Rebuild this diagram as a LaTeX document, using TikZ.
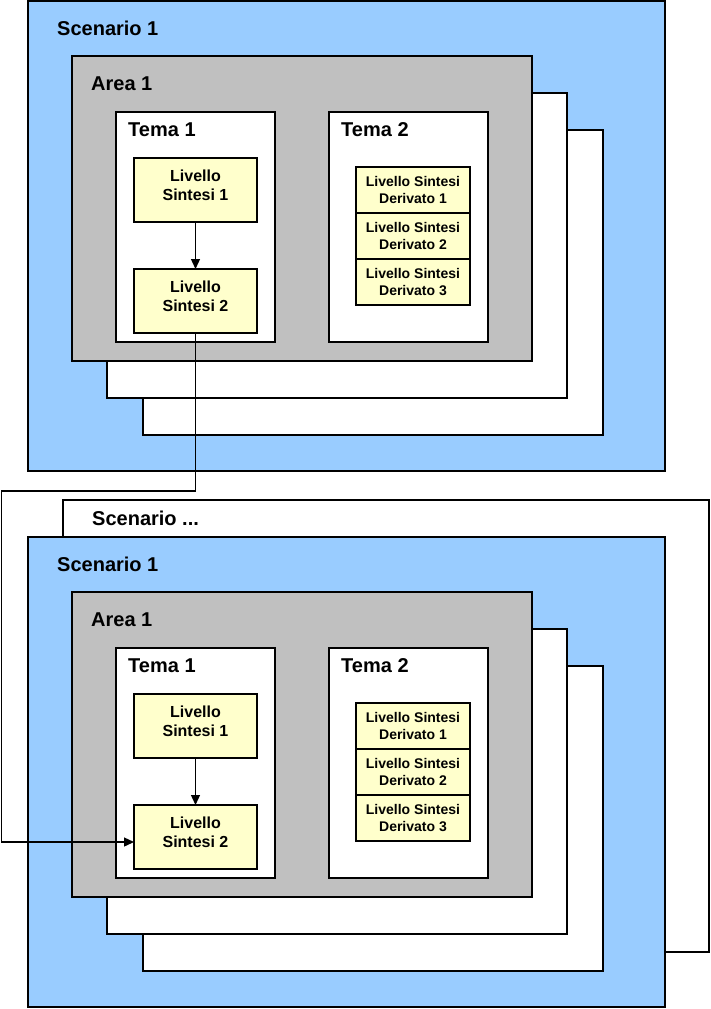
\documentclass[tikz,border=0pt]{standalone}
\usepackage{fontspec}
\setmainfont{Liberation Sans}
\usetikzlibrary{arrows.meta}
\definecolor{scenblue}{HTML}{99CCFF}
\definecolor{areagray}{HTML}{C0C0C0}
\definecolor{livyellow}{HTML}{FFFFCC}

\begin{document}
\begin{tikzpicture}[x=1pt,y=-1pt,
    frame/.style={draw, line width=1.3pt, inner sep=0pt, outer sep=0pt},
    scen/.style={frame, fill=scenblue, minimum width=637pt, minimum height=470pt},
    back/.style={frame, fill=white, minimum width=460pt, minimum height=305pt},
    area/.style={frame, fill=areagray, minimum width=460pt, minimum height=305pt},
    tema/.style={frame, fill=white, minimum width=159pt, minimum height=230pt},
    liv/.style={frame, fill=livyellow, minimum width=123pt, minimum height=64pt, align=center,
        text depth=10pt, font=\bfseries\fontsize{16}{19.5}\selectfont},
    der/.style={frame, fill=livyellow, minimum width=114pt, minimum height=46pt, align=center,
        font=\bfseries\fontsize{14}{17}\selectfont},
    title/.style={anchor=west, inner sep=0pt, font=\bfseries\fontsize{20}{24}\selectfont},
    flow/.style={line width=1.3pt, -{Triangle[length=10pt,width=9pt]}}]

\useasboundingbox (0,0) rectangle (711,1009);

% upper scenario
          \node [scen] at (346.5,236) (scena) {};
             \node [back] at (373,282.5) (backa2) {};
              \node [back] at (337,245.5) (backa1) {};
               \node [area] at (302,208.5) (areaa) {};
                \node [tema] at (195.5,227) (temaa1) {};
                 \node [tema] at (408.5,227) (temaa2) {};
                  \node [liv] at (195.5,190) (livaa1) {Livello\\Sintesi 1};
                  \node [liv] at (195.5,301) (livaa2) {Livello\\Sintesi 2};
                   \node [der] at (413,190) (dera1) {Livello Sintesi\\Derivato 1};
                   \node [der] at (413,236) (dera2) {Livello Sintesi\\Derivato 2};
                   \node [der] at (413,282) (dera3) {Livello Sintesi\\Derivato 3};
%
             \node [title] at (57,28.5) (scenalabel) {Scenario 1};
             \node [title] at (91,84) (arealabel) {Area 1};
             \node [title] at (128,130) (temaa1label) {Tema 1};
             \node [title] at (341,130) (temaa2label) {Tema 2};
%
% lower scenario
          \node [frame, fill=white, minimum width=646pt, minimum height=452pt] at (386,726) (scendots) {};
             \node [title] at (92,518.5) (scendotslabel) {Scenario ...};
          \node [scen] at (346.5,772) (scenb) {};
             \node [back] at (373,818.5) (backb2) {};
              \node [back] at (337,781.5) (backb1) {};
               \node [area] at (302,744.5) (areab) {};
                \node [tema] at (195.5,763) (temab1) {};
                 \node [tema] at (408.5,763) (temab2) {};
                  \node [liv] at (195.5,726) (livab1) {Livello\\Sintesi 1};
                  \node [liv] at (195.5,837) (livab2) {Livello\\Sintesi 2};
                   \node [der] at (413,726) (derb1) {Livello Sintesi\\Derivato 1};
                   \node [der] at (413,772) (derb2) {Livello Sintesi\\Derivato 2};
                   \node [der] at (413,818) (derb3) {Livello Sintesi\\Derivato 3};
%
             \node [title] at (57,564.5) (scenblabel) {Scenario 1};
             \node [title] at (91,620) (areablabel) {Area 1};
             \node [title] at (128,666) (temab1label) {Tema 1};
             \node [title] at (341,666) (temab2label) {Tema 2};
%
\coordinate (turn) at (1.5,491);
\coordinate (entry) at (1.5,842);
%
\path[flow] (livaa1) edge (livaa2);
\path[flow] (livab1) edge (livab2);
\draw[flow] (livaa2.south) |- (turn) -- (entry) -- (entry -| livab2.west);

\end{tikzpicture}
\end{document}
